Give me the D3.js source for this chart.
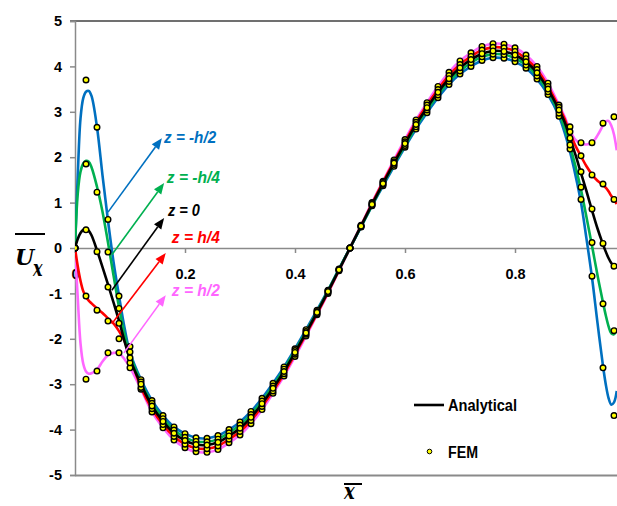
<!DOCTYPE html>
<html><head><meta charset="utf-8">
<script src="https://cdn.jsdelivr.net/npm/d3@7"></script>
<style>html,body{margin:0;padding:0;background:#fff;overflow:hidden}</style>
</head><body><svg id="c" width="617" height="506"></svg>
<script>
// ---------- DATA ----------
const xAnalytical = [0,0.005,0.01,0.015,0.02,0.025,0.03,0.04,0.05,0.06,0.07,0.08,0.09,0.10,
  0.12,0.14,0.16,0.18,0.20,0.22,0.24,0.26,0.28,0.30,0.32,0.34,0.36,0.38,0.40,0.42,0.44,0.46,0.48,0.50,
  0.52,0.54,0.56,0.58,0.60,0.62,0.64,0.66,0.68,0.70,0.72,0.74,0.76,0.78,0.80,0.82,0.84,0.86,0.88,
  0.89,0.90,0.91,0.92,0.93,0.94,0.95,0.96,0.965,0.97,0.975,0.98,0.985];

const anaBlue = [0,1.6,2.85,3.3,3.44,3.46,3.35,2.66,1.6,0.6,-0.3,-1.05,-1.75,-2.3,
  -2.9,-3.36,-3.69,-3.94,-4.09,-4.18,-4.19,-4.13,-4.0,-3.83,-3.6,-3.31,-2.98,-2.62,-2.22,-1.8,-1.37,-0.93,-0.46,0,
  0.46,0.93,1.37,1.8,2.22,2.62,2.98,3.31,3.6,3.83,4.0,4.13,4.19,4.18,4.1,3.96,3.72,3.38,2.9,
  2.55,2.12,1.6,1.0,0.2,-0.65,-1.65,-2.6,-3.0,-3.3,-3.45,-3.4,-3.15];
const anaGreen = [0,1.2,1.68,1.86,1.92,1.9,1.78,1.35,0.8,0.12,-0.6,-1.3,-1.9,-2.35,
  -2.95,-3.42,-3.76,-4.01,-4.17,-4.26,-4.27,-4.21,-4.07,-3.9,-3.67,-3.37,-3.04,-2.67,-2.26,-1.84,-1.4,-0.94,-0.47,0,
  0.47,0.94,1.4,1.84,2.26,2.67,3.04,3.37,3.67,3.9,4.08,4.21,4.27,4.26,4.18,4.03,3.79,3.44,2.97,
  2.65,2.25,1.8,1.28,0.68,0.05,-0.6,-1.2,-1.48,-1.72,-1.88,-1.9,-1.82];
const anaBlack = [0,0.2,0.33,0.4,0.42,0.38,0.28,-0.05,-0.42,-0.8,-1.2,-1.6,-2.05,-2.45,
  -3.0,-3.48,-3.82,-4.08,-4.24,-4.33,-4.34,-4.28,-4.14,-3.97,-3.73,-3.43,-3.09,-2.72,-2.3,-1.87,-1.42,-0.96,-0.48,0,
  0.48,0.96,1.42,1.87,2.3,2.72,3.09,3.43,3.73,3.97,4.15,4.28,4.34,4.33,4.25,4.1,3.86,3.5,3.04,
  2.78,2.42,2.05,1.65,1.25,0.83,0.43,0.08,-0.08,-0.22,-0.33,-0.4,-0.43];
const anaRed = [0,-0.4,-0.72,-0.95,-1.08,-1.16,-1.22,-1.33,-1.43,-1.55,-1.66,-1.83,-2.05,-2.38,
  -3.07,-3.54,-3.89,-4.15,-4.32,-4.41,-4.42,-4.36,-4.21,-4.04,-3.8,-3.49,-3.15,-2.77,-2.34,-1.9,-1.45,-0.98,-0.49,0,
  0.49,0.98,1.45,1.9,2.34,2.77,3.15,3.49,3.8,4.04,4.22,4.36,4.42,4.41,4.33,4.17,3.93,3.56,3.1,
  2.85,2.52,2.25,2.02,1.8,1.62,1.48,1.39,1.33,1.25,1.15,1.06,0.97];
const anaPink = [0,-1.1,-2.1,-2.55,-2.72,-2.77,-2.76,-2.68,-2.5,-2.36,-2.31,-2.32,-2.45,-2.63,
  -3.11,-3.61,-3.96,-4.23,-4.4,-4.49,-4.5,-4.44,-4.29,-4.12,-3.87,-3.56,-3.2,-2.82,-2.39,-1.94,-1.47,-1.0,-0.5,0,
  0.5,1.0,1.47,1.94,2.39,2.82,3.2,3.56,3.87,4.12,4.3,4.44,4.5,4.49,4.41,4.25,4.0,3.63,3.15,
  2.9,2.6,2.38,2.3,2.28,2.32,2.48,2.7,2.79,2.8,2.7,2.5,2.15];

const xFEM = [0,0.02,0.04,0.06,0.08,0.10,0.12,0.14,0.16,0.18,0.20,0.22,0.24,0.26,0.28,0.30,0.32,0.34,0.36,0.38,
  0.40,0.42,0.44,0.46,0.48,0.50,0.52,0.54,0.56,0.58,0.60,0.62,0.64,0.66,0.68,0.70,0.72,0.74,0.76,0.78,
  0.80,0.82,0.84,0.86,0.88,0.90,0.92,0.94,0.96,0.98];
const femBlue = [0,3.70,2.66,0.63,-1.06,-2.17,
  -2.9,-3.36,-3.69,-3.94,-4.09,-4.18,-4.19,-4.13,-4.0,-3.83,-3.6,-3.31,-2.98,-2.62,-2.22,-1.8,-1.37,-0.93,-0.46,0,
  0.46,0.93,1.37,1.8,2.22,2.62,2.98,3.31,3.6,3.83,4.0,4.13,4.19,4.18,4.1,3.96,3.72,3.38,2.9,
  2.18,1.07,-0.62,-2.64,-3.69];
const femGreen = [0,1.85,1.23,-0.09,-1.33,-2.29,
  -2.95,-3.42,-3.76,-4.01,-4.17,-4.26,-4.27,-4.21,-4.07,-3.9,-3.67,-3.37,-3.04,-2.67,-2.26,-1.84,-1.4,-0.94,-0.47,0,
  0.47,0.94,1.4,1.84,2.26,2.67,3.04,3.37,3.67,3.9,4.08,4.21,4.27,4.26,4.18,4.03,3.79,3.44,2.97,
  2.27,1.34,0.12,-1.23,-1.82];
const femBlack = [0,0.40,-0.08,-0.86,-1.66,-2.42,
  -3.0,-3.48,-3.82,-4.08,-4.24,-4.33,-4.34,-4.28,-4.14,-3.97,-3.73,-3.43,-3.09,-2.72,-2.3,-1.87,-1.42,-0.96,-0.48,0,
  0.48,0.96,1.42,1.87,2.3,2.72,3.09,3.43,3.73,3.97,4.15,4.28,4.34,4.33,4.25,4.1,3.86,3.5,3.04,
  2.42,1.68,0.86,0.10,-0.40];
const femRed = [0,-1.06,-1.37,-1.61,-2.0,-2.53,
  -3.07,-3.54,-3.89,-4.15,-4.32,-4.41,-4.42,-4.36,-4.21,-4.04,-3.8,-3.49,-3.15,-2.77,-2.34,-1.9,-1.45,-0.98,-0.49,0,
  0.49,0.98,1.45,1.9,2.34,2.77,3.15,3.49,3.8,4.04,4.22,4.36,4.42,4.41,4.33,4.17,3.93,3.56,3.1,
  2.56,2.03,1.61,1.41,1.07];
const femPink = [0,-2.89,-2.71,-2.31,-2.31,-2.64,
  -3.11,-3.61,-3.96,-4.23,-4.4,-4.49,-4.5,-4.44,-4.29,-4.12,-3.87,-3.56,-3.2,-2.82,-2.39,-1.94,-1.47,-1.0,-0.5,0,
  0.5,1.0,1.47,1.94,2.39,2.82,3.2,3.56,3.87,4.12,4.3,4.44,4.5,4.49,4.41,4.25,4.0,3.63,3.15,
  2.67,2.32,2.32,2.75,2.89];

const seriesNames = ["z = h/2","z = h/4","z = -h/2","z = -h/4","z = 0"];
const seriesColors = ["#FF66FF","#FF0000","#0070C0","#00B050","#000000"];
const seriesAna = [anaPink, anaRed, anaBlue, anaGreen, anaBlack];
const seriesFEM = [femPink, femRed, femBlue, femGreen, femBlack];

const yTicks = [-5,-4,-3,-2,-1,0,1,2,3,4,5];
const xTicks = [0,0.2,0.4,0.6,0.8];
const xTickLabels = ["0","0.2","0.4","0.6","0.8"];
const legendLabels = ["Analytical","FEM"];

// annotation anchors in data units
const annotations = [
  {label:"z = -h/2", color:"#0070C0", from:[0.060,0.79],  to:[0.158,2.42],  text:[0.162,2.44],  len:52},
  {label:"z = -h/4", color:"#00B050", from:[0.067,-0.15], to:[0.162,1.43],  text:[0.167,1.56],  len:53},
  {label:"z = 0",    color:"#000000", from:[0.067,-0.93], to:[0.162,0.66],  text:[0.169,0.84],  len:32},
  {label:"z = h/4",  color:"#FF0000", from:[0.067,-1.67], to:[0.165,-0.11], text:[0.176,0.24],  len:48},
  {label:"z = h/2",  color:"#FF66FF", from:[0.089,-2.31], to:[0.165,-1.04], text:[0.176,-0.93], len:48}
];

// ---------- LAYOUT ----------
const W = 617, H = 506;
const svg = d3.select("#c");
const x = d3.scaleLinear().domain([0,1]).range([75,625]);
const y = d3.scaleLinear().domain([-5,5]).range([475,21]);
const font = "'Liberation Sans', Arial, sans-serif";
const serif = "'DejaVu Serif', 'Liberation Serif', serif";

svg.append("defs").append("clipPath").attr("id","clip")
  .append("rect").attr("x",75).attr("y",0).attr("width",W-75).attr("height",H);

svg.append("line").attr("x1",70).attr("x2",W).attr("y1",y(5)).attr("y2",y(5))
  .attr("stroke","#404040").attr("stroke-width",1.5);
svg.append("line").attr("x1",75).attr("x2",W).attr("y1",y(-5)+0.5).attr("y2",y(-5)+0.5)
  .attr("stroke","#8a8a8a").attr("stroke-width",2);

const gy = svg.append("g").attr("transform","translate(75,0)")
  .call(d3.axisLeft(y).tickValues(yTicks).tickSize(5).tickPadding(8).tickFormat(d=>String(d)));
gy.select(".domain").attr("stroke","#8a8a8a").attr("stroke-width",1.5);
gy.selectAll(".tick line").attr("stroke","#8a8a8a").attr("stroke-width",1.5);
gy.selectAll(".tick text").attr("font-family",font).attr("font-size",14.5).attr("font-weight","bold").attr("fill","#000");

const gx = svg.append("g").attr("transform",`translate(0,${y(0)})`)
  .call(d3.axisBottom(x).tickValues(xTicks).tickSize(5).tickPadding(16).tickFormat((d,i)=>xTickLabels[i]));
gx.select(".domain").attr("stroke","#8a8a8a").attr("stroke-width",1.5);
gx.selectAll(".tick line").attr("stroke","#8a8a8a").attr("stroke-width",1.5);
gx.selectAll(".tick text").attr("font-family",font).attr("font-size",14.5).attr("font-weight","bold").attr("fill","#000");

// axis titles
const yt = svg.append("g");
yt.append("line").attr("x1",15).attr("x2",45).attr("y1",234).attr("y2",234).attr("stroke","#000").attr("stroke-width",2);
yt.append("text").attr("x",15).attr("y",265).attr("font-family",serif)
  .attr("font-size",22).attr("font-weight","bold").attr("font-style","italic").text("U");
yt.append("text").attr("transform","translate(33,276) scale(0.8,1.15)").attr("font-family",serif)
  .attr("font-size",20).attr("font-weight","bold").attr("font-style","italic").text("x");

const xt = svg.append("g");
xt.append("line").attr("x1",344).attr("x2",362).attr("y1",484).attr("y2",484).attr("stroke","#000").attr("stroke-width",2);
xt.append("text").attr("transform","translate(344,499) scale(0.9,1.1)").attr("font-family",serif)
  .attr("font-size",20).attr("font-weight","bold").attr("font-style","italic").text("x");

// lines
const line = d3.line().x(d=>x(d[0])).y(d=>y(d[1])).curve(d3.curveCatmullRom.alpha(0.5));
const plot = svg.append("g").attr("clip-path","url(#clip)");
seriesAna.forEach((ys,i)=>{
  plot.append("path").datum(xAnalytical.map((xv,j)=>[xv,ys[j]]))
    .attr("d",line).attr("fill","none").attr("stroke",seriesColors[i]).attr("stroke-width",2.6)
    .attr("stroke-linejoin","round");
});

// FEM points
seriesFEM.forEach((ys,i)=>{
  plot.append("g").selectAll("circle").data(xFEM.map((xv,j)=>[xv,ys[j]])).join("circle")
    .attr("cx",d=>x(d[0])).attr("cy",d=>y(d[1])).attr("r",2.8)
    .attr("fill","#FFFF00").attr("stroke","#000").attr("stroke-width",1.4);
});

// annotations
annotations.forEach(a=>{
  const x1=x(a.from[0]), y1=y(a.from[1]), x2=x(a.to[0]), y2=y(a.to[1]);
  const ang=Math.atan2(y2-y1,x2-x1), L=11, Wd=4.5;
  const bx=x2-L*Math.cos(ang), by=y2-L*Math.sin(ang);
  svg.append("line").attr("x1",x1).attr("y1",y1).attr("x2",bx).attr("y2",by)
    .attr("stroke",a.color).attr("stroke-width",1.6);
  const px=-Math.sin(ang), py=Math.cos(ang);
  svg.append("polygon").attr("points",[[x2,y2],[bx+px*Wd,by+py*Wd],[bx-px*Wd,by-py*Wd]].map(p=>p.join(",")).join(" "))
    .attr("fill",a.color);
  svg.append("text").attr("x",x(a.text[0])).attr("y",y(a.text[1])+6)
    .attr("font-family",font).attr("font-size",16.5).attr("font-weight","bold").attr("font-style","italic")
    .attr("fill",a.color).attr("textLength",a.len).attr("lengthAdjust","spacingAndGlyphs").text(a.label);
});

// legend
const lg = svg.append("g");
lg.append("line").attr("x1",414).attr("x2",444).attr("y1",405).attr("y2",405).attr("stroke","#000").attr("stroke-width",2.6);
lg.append("text").attr("x",448).attr("y",411).attr("font-family",font).attr("font-size",16).attr("font-weight","bold")
  .attr("textLength",69).attr("lengthAdjust","spacingAndGlyphs").text(legendLabels[0]);
lg.append("circle").attr("cx",429.5).attr("cy",451.5).attr("r",2.3).attr("fill","#FFFF00").attr("stroke","#000").attr("stroke-width",1);
lg.append("text").attr("x",448).attr("y",458).attr("font-family",font).attr("font-size",16).attr("font-weight","bold")
  .attr("textLength",30).attr("lengthAdjust","spacingAndGlyphs").text(legendLabels[1]);
</script></body></html>
